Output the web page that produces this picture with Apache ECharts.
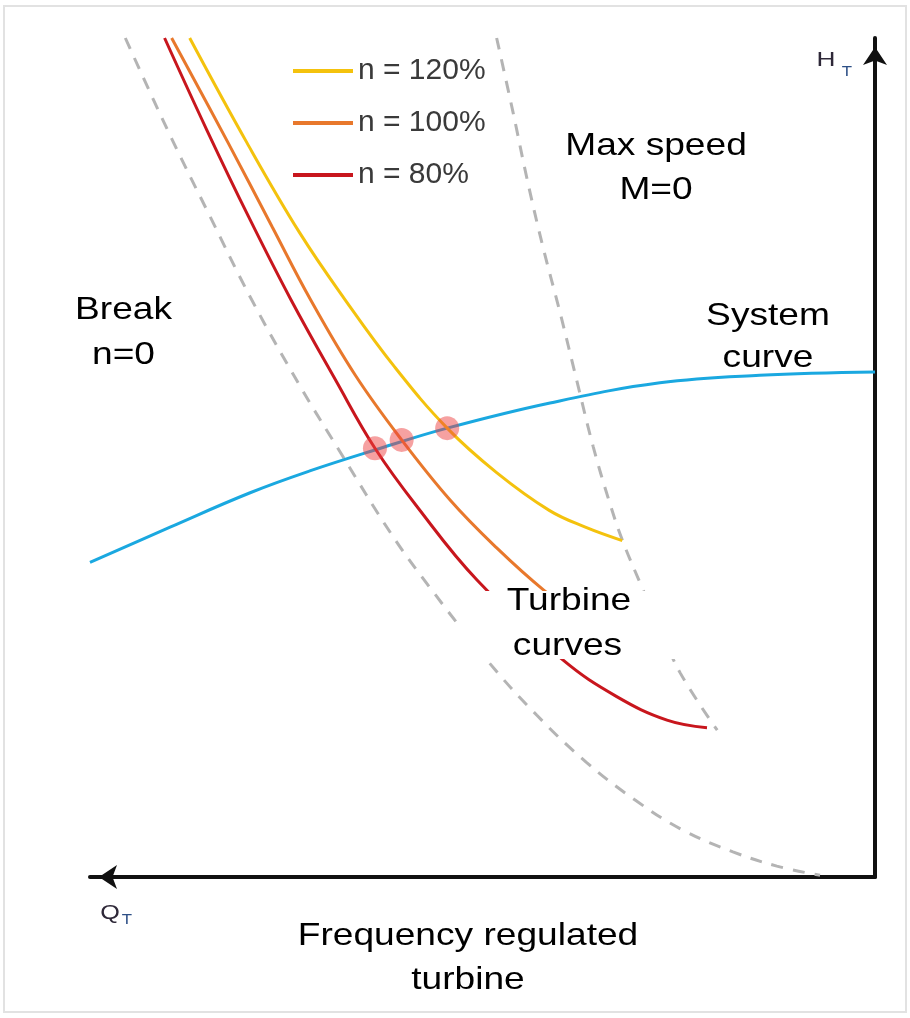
<!DOCTYPE html>
<html>
<head>
<meta charset="utf-8">
<script src="https://cdn.jsdelivr.net/npm/echarts@6/dist/echarts.min.js"></script>
<style>html,body{margin:0;padding:0;background:#fff}#c{width:910px;height:1018px}</style>
</head>
<body>
<div id="c"></div>
<script>
// ---- data (Q = flow, H = head; arbitrary 0..100 units) ----
const legendNames = ['n = 120%', 'n = 100%', 'n = 80%'];
const turbine120 = [[87.3,100],[80.0,87.5],[73.3,76.8],[67.5,68.8],[61.2,60.8],[54.5,53.5],[48.2,48.2],[41.5,43.7],[36.9,41.7],[32.2,40.1]];
const turbine100 = [[89.6,100],[82.4,87.5],[76.8,77.5],[71.9,68.8],[66.2,59.8],[60.3,52.1],[54.1,44.9],[48.5,39.5],[42.2,34.2],[35.9,30.0]];
const turbine80  = [[90.5,100],[85.1,89.0],[79.8,78.7],[74.4,68.8],[68.7,59.2],[63.7,51.1],[58.3,44.1],[50.7,35.4],[39.8,25.9],[32.9,21.5],[26.5,18.7],[21.4,17.8]];
const systemCurve = [[100,37.5],[89.8,41.7],[79.6,45.8],[72.0,48.4],[63.7,50.9],[54.5,53.5],[41.4,56.5],[27.4,58.9],[14.7,59.8],[0,60.2]];
const breakCurve = [[95.5,100],[90.1,89.0],[84.8,78.9],[79.4,68.8],[73.3,58.6],[67.9,50.3],[61.7,41.0],[56.7,34.5],[49.2,25.6],[43.1,19.3],[36.8,13.7],[30.6,9.2],[24.5,5.6],[18.1,3.0],[12.5,1.3],[7.0,0.2]];
const maxSpeedCurve = [[48.2,100],[46.1,91.1],[44.3,83.1],[42.3,75.1],[40.1,67.2],[38.0,59.2],[35.9,51.3],[33.8,44.6],[32.2,40.2],[29.9,35.0],[27.4,29.7],[24.8,24.3],[20.1,17.5]];
const operatingPoints = [[63.7,51.1],[60.3,52.1],[54.5,53.5]];
const labelBreak = ['Break', 'n=0'];
const labelMax = ['Max speed', 'M=0'];
const labelSystem = ['System', 'curve'];
const labelTurbine = ['Turbine', 'curves'];
const labelTitle = ['Frequency regulated', 'turbine'];

const FONT = '"Liberation Sans", Arial, Helvetica, sans-serif';
const colors = { y: '#f4c20d', o: '#e8782c', r: '#c8161d', b: '#1aa8e0', g: '#b4b4b4' };

function txt(t, x, y, size, sx, color) {
  return { type: 'text', x: x, y: y, scaleX: sx || 1, z: 101, silent: true,
    style: { text: t, fontSize: size, fontFamily: FONT, fill: color || '#000',
      align: 'center', textAlign: 'center', verticalAlign: 'middle', textVerticalAlign: 'middle' } };
}
function box(x, y, w, h) {
  return { type: 'rect', z: 100, silent: true, shape: { x: x, y: y, width: w, height: h }, style: { fill: '#fff' } };
}

const chart = echarts.init(document.getElementById('c'), null, { renderer: 'canvas' });
const axisBase = {
  type: 'value', min: 0, max: 100,
  axisTick: { show: false }, axisLabel: { show: false }, splitLine: { show: false }
};
function lineSeries(name, data, color, dashed, z) {
  return { type: 'line', name: name, data: data, smooth: 0.4, symbol: 'none', showSymbol: false, clip: false, silent: true, z: z,
    lineStyle: { color: color, width: 3, type: dashed ? [12, 10] : 'solid' }, itemStyle: { color: color } };
}
chart.setOption({
  animation: false,
  backgroundColor: '#fff',
  grid: { left: 90, right: 35, top: 38, bottom: 141, containLabel: false },
  xAxis: Object.assign({}, axisBase, { inverse: true, position: 'bottom',
    axisLine: { show: true, onZero: false, symbol: ['arrow', 'none'], symbolSize: [18, 18], symbolOffset: [9, 0],
      lineStyle: { color: '#111', width: 4 } } }),
  yAxis: Object.assign({}, axisBase, { position: 'right',
    axisLine: { show: true, onZero: false, symbol: ['none', 'arrow'], symbolSize: [18, 18], symbolOffset: [0, -9],
      lineStyle: { color: '#111', width: 4 } } }),
  legend: {
    orient: 'vertical', left: 288, top: 51, itemWidth: 60, itemHeight: 4, itemGap: 22, icon: 'rect',
    data: legendNames, selectedMode: false,
    textStyle: { fontSize: 30, color: '#3a3a3a', fontFamily: FONT, lineHeight: 30 }
  },
  series: [
    lineSeries('break', breakCurve, colors.g, true, 2),
    lineSeries('max', maxSpeedCurve, colors.g, true, 2),
    lineSeries('system', systemCurve, colors.b, false, 3),
    lineSeries(legendNames[0], turbine120, colors.y, false, 4),
    lineSeries(legendNames[1], turbine100, colors.o, false, 4),
    lineSeries(legendNames[2], turbine80, colors.r, false, 4),
    { type: 'scatter', data: operatingPoints, symbolSize: 24, silent: true, z: 6,
      itemStyle: { color: 'rgba(236,64,64,0.62)' } }
  ],
  graphic: [
    { type: 'rect', z: 0, silent: true, shape: { x: 4, y: 6, width: 902, height: 1006 }, style: { fill: 'none', stroke: '#e2e2e2', lineWidth: 2 } },
    box(60, 288, 172, 87),
    txt(labelBreak[0], 123.5, 310.5, 32, 1.16),
    txt(labelBreak[1], 123.5, 355.5, 32, 1.16),
    box(545, 133, 210, 72),
    txt(labelMax[0], 656, 146.5, 32, 1.16),
    txt(labelMax[1], 656, 190.5, 32, 1.16),
    box(690, 302, 180, 66),
    txt(labelSystem[0], 768, 316.5, 32, 1.16),
    txt(labelSystem[1], 768, 358.5, 32, 1.16),
    box(457, 591, 225, 68),
    txt(labelTurbine[0], 569, 601.5, 32, 1.16),
    txt(labelTurbine[1], 567.5, 646.5, 32, 1.16),
    txt(labelTitle[0], 468, 936.5, 32, 1.16),
    txt(labelTitle[1], 468, 980, 32, 1.16),
    txt('H', 826, 60, 21, 1.25, '#2e2838'),
    txt('T', 847, 72, 14, 1.2, '#2d4f86'),
    txt('Q', 110, 913, 21, 1.2, '#2e2838'),
    txt('T', 127, 920, 14, 1.2, '#2d4f86')
  ]
});
</script>
</body>
</html>
